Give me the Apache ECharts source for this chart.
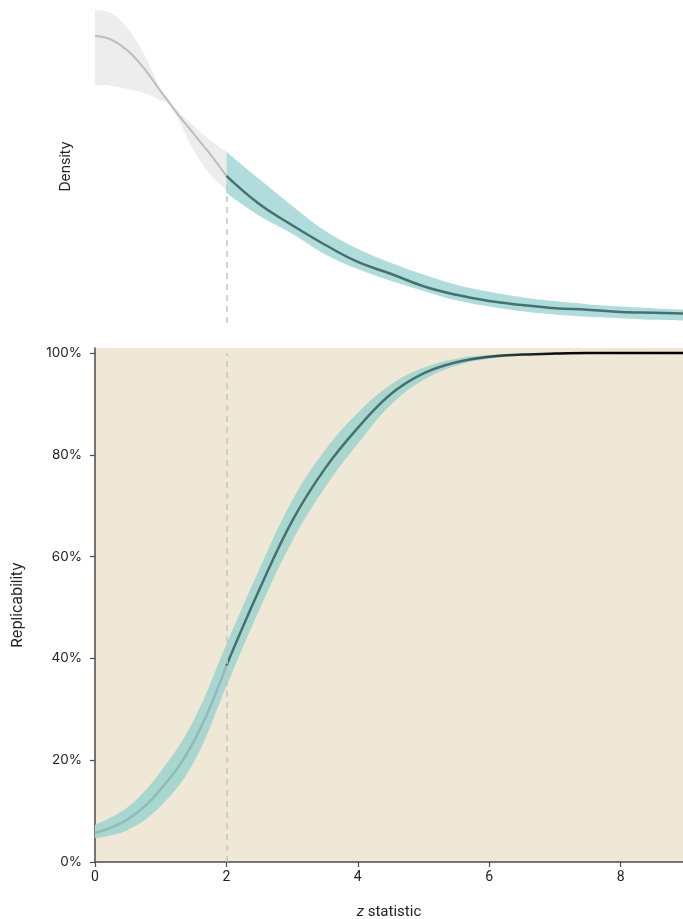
<!DOCTYPE html>
<html>
<head>
<meta charset="utf-8">
<script src="https://cdn.jsdelivr.net/npm/echarts@6/dist/echarts.min.js"></script>
<style>
  html, body { margin: 0; padding: 0; background: #ffffff; }
  #chart { width: 683px; height: 919px; }
</style>
</head>
<body>
<div id="chart"></div>
<script>
// Density of z statistics: grey below the threshold (z < 2), teal above it
const densZGrey  = [0, 0.25, 0.5, 0.75, 1.0, 1.1, 1.25, 1.5, 1.75, 2.0];
const densGrey   = [0.367, 0.362, 0.348, 0.325, 0.296, 0.285, 0.268, 0.242, 0.216, 0.188];
const densGreyLo = [0.304, 0.303, 0.299, 0.294, 0.285, 0.281, 0.263, 0.221, 0.190, 0.170];
const densGreyHi = [0.400, 0.396, 0.376, 0.343, 0.299, 0.288, 0.272, 0.252, 0.234, 0.219];

const densZTeal  = [2.0, 2.5, 3.0, 3.5, 4.0, 4.5, 5.0, 5.5, 6.0, 6.5, 7.0, 7.5, 8.0, 8.5, 9.0];
const densTeal   = [0.188, 0.152, 0.125, 0.100, 0.078, 0.063, 0.047, 0.036, 0.028, 0.023, 0.019, 0.017, 0.014, 0.013, 0.012];
const densTealLo = [0.166, 0.137, 0.114, 0.088, 0.069, 0.054, 0.041, 0.029, 0.021, 0.015, 0.011, 0.008, 0.006, 0.004, 0.003];
const densTealHi = [0.219, 0.184, 0.150, 0.118, 0.095, 0.077, 0.062, 0.049, 0.040, 0.033, 0.028, 0.024, 0.021, 0.019, 0.017];

// Replicability as a function of z, with its uncertainty band
const repZ  = [0, 0.5, 1.0, 1.5, 2.0, 2.5, 3.0, 3.5, 4.0, 4.5, 5.0, 5.5, 6.0, 6.5, 7.0, 7.5, 8.0, 8.5, 9.0];
const rep   = [0.057, 0.084, 0.143, 0.236, 0.386, 0.535, 0.670, 0.773, 0.853, 0.919, 0.960, 0.982, 0.993, 0.997, 0.999, 1.000, 1.000, 1.000, 1.000];
const repLo = [0.047, 0.063, 0.110, 0.195, 0.345, 0.495, 0.630, 0.736, 0.822, 0.898, 0.947, 0.975, 0.989, 0.995, 0.998, 0.999, 1.000, 1.000, 1.000];
const repHi = [0.073, 0.108, 0.178, 0.278, 0.428, 0.575, 0.710, 0.809, 0.883, 0.938, 0.971, 0.989, 0.996, 0.999, 1.000, 1.000, 1.000, 1.000, 1.000];

const threshold = 2;
const xTicks = [0, 2, 4, 6, 8];
const yTicks = [0, 0.2, 0.4, 0.6, 0.8, 1.0];

// Points are stored as [value, z] so that stacking works on the value dimension;
// encode maps them back onto x = z, y = value.
const pts = (z, v) => z.map((x, i) => [v[i], x]);
const widths = (z, lo, hi) => z.map((x, i) => [+(hi[i] - lo[i]).toFixed(4), x]);
const ENC = { x: 1, y: 0 };
const SMOOTH = 0.4;

const FONT = 'Inter';
const axisColor = '#4f4b45';
const darkLine = '#46716f';

function band(idx, stack, z, lo, hi, color) {
  const common = { type: 'line', xAxisIndex: idx, yAxisIndex: idx, stack: stack, symbol: 'none',
                   encode: ENC, smooth: SMOOTH, silent: true, lineStyle: { width: 0, opacity: 0 } };
  return [
    Object.assign({}, common, { data: pts(z, lo) }),
    Object.assign({}, common, { data: widths(z, lo, hi), areaStyle: { color: color, opacity: 1 } })
  ];
}

function curve(idx, z, v, color, width, extra) {
  return Object.assign({
    type: 'line', xAxisIndex: idx, yAxisIndex: idx, symbol: 'none', smooth: SMOOTH,
    encode: ENC, silent: true, data: pts(z, v),
    lineStyle: { color: color, width: width }
  }, extra || {});
}

const dashed = (top) => ({
  silent: true, symbol: 'none', label: { show: false },
  lineStyle: { color: '#c4c4c4', type: [6, 5], width: 1.5 },
  data: [[{ coord: [threshold, 0] }, { coord: [threshold, top] }]]
});

const chart = echarts.init(document.getElementById('chart'), null, { renderer: 'canvas' });

chart.setOption({
  animation: false,
  backgroundColor: '#ffffff',
  textStyle: { fontFamily: FONT },
  grid: [
    { left: 95, right: 0, top: 10, height: 313, outerBoundsMode: 'none' },
    { left: 95, right: 0, top: 348, bottom: 57, outerBoundsMode: 'none',
      show: true, backgroundColor: '#f0e8d6', borderWidth: 0 }
  ],
  xAxis: [
    { type: 'value', gridIndex: 0, min: 0, max: 8.95, show: false },
    {
      type: 'value', gridIndex: 1, min: 0, max: 8.95,
      name: '{i|z} statistic', nameLocation: 'middle', nameGap: 43,
      nameTextStyle: { fontFamily: 'Roboto', fontSize: 15, color: '#222',
                       rich: { i: { fontFamily: 'Roboto', fontSize: 15, fontStyle: 'italic', color: '#222' } } },
      axisLine: { show: true, lineStyle: { color: axisColor, width: 1.5 } },
      axisTick: { show: true, length: 5, customValues: xTicks, lineStyle: { color: axisColor, width: 1.2 } },
      axisLabel: { customValues: xTicks, margin: 8, fontFamily: 'Roboto', fontSize: 14, color: '#222' },
      splitLine: { show: false }
    }
  ],
  yAxis: [
    {
      type: 'value', gridIndex: 0, min: 0, max: 0.4,
      name: 'Density', nameLocation: 'middle', nameGap: 22, nameRotate: 90,
      nameTextStyle: { fontSize: 14, color: '#222' },
      axisLine: { show: false }, axisTick: { show: false }, axisLabel: { show: false },
      splitLine: { show: false }
    },
    {
      type: 'value', gridIndex: 1, min: 0, max: 1.01,
      name: 'Replicability', nameLocation: 'middle', nameGap: 70, nameRotate: 90,
      nameTextStyle: { fontSize: 15, color: '#222' },
      axisLine: { show: true, lineStyle: { color: axisColor, width: 1.5 } },
      axisTick: { show: true, length: 5, customValues: yTicks, lineStyle: { color: axisColor, width: 1.2 } },
      axisLabel: { customValues: yTicks, margin: 13, fontSize: 13.5, color: '#222',
                   formatter: v => Math.round(v * 100) + '%' },
      splitLine: { show: false }
    }
  ],
  series: [
    // density panel
    ...band(0, 'densGreyBand', densZGrey, densGreyLo, densGreyHi, '#ededed'),
    ...band(0, 'densTealBand', densZTeal, densTealLo, densTealHi, '#b0dddc'),
    curve(0, densZGrey, densGrey, '#bdbdbd', 2, { markLine: dashed(densGrey[densGrey.length - 1] - 0.008) }),
    curve(0, densZTeal, densTeal, darkLine, 2.5),
    // replicability panel
    ...band(1, 'repBand', repZ, repLo, repHi, '#a9d6cf'),
    curve(1, repZ.slice(0, 5), rep.slice(0, 5), '#8fbab9', 2.5, { markLine: dashed(1) }),
    curve(1, repZ.slice(4), rep.slice(4), {
      type: 'linear', x: 0, y: 0, x2: 1, y2: 0,
      colorStops: [
        { offset: 0, color: darkLine },
        { offset: 0.5, color: darkLine },
        { offset: 0.72, color: '#0a0a0a' },
        { offset: 1, color: '#000000' }
      ]
    }, 2.5)
  ]
});
</script>
</body>
</html>
